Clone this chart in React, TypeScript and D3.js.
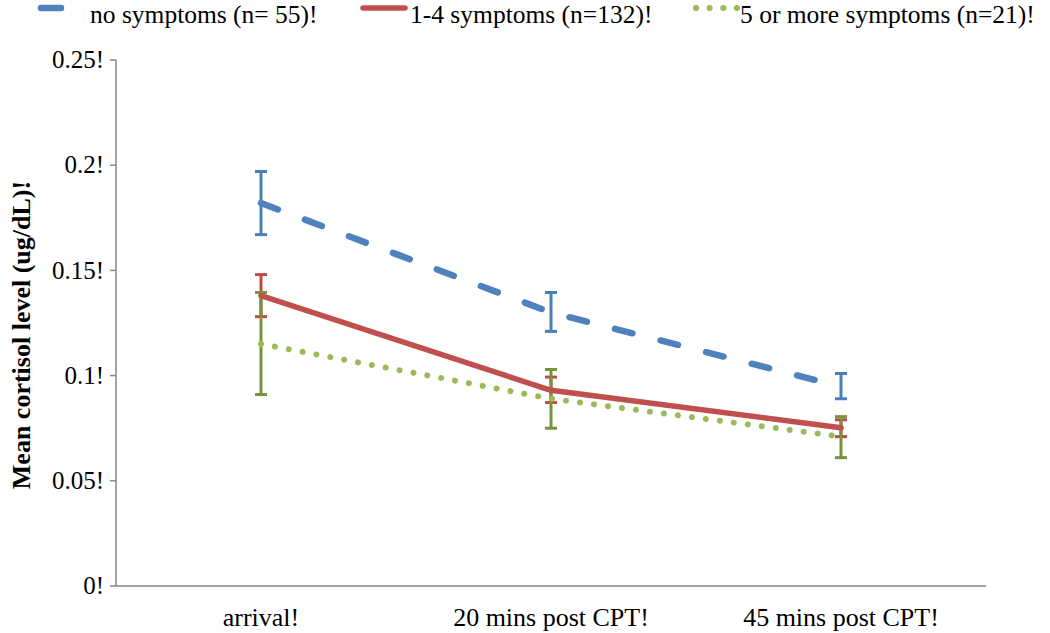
import React from "react";
import * as d3 from "d3";

const categories = ["arrival!", "20 mins post CPT!", "45 mins post CPT!"];
const yTicks = [0, 0.05, 0.1, 0.15, 0.2, 0.25];
const yTickLabels = ["0!", "0.05!", "0.1!", "0.15!", "0.2!", "0.25!"];

const noSymptoms = [0.182, 0.130, 0.0948];
const noSymptomsLo = [0.167, 0.121, 0.089];
const noSymptomsHi = [0.197, 0.1395, 0.101];

const mid = [0.138, 0.093, 0.0752];
const midLo = [0.128, 0.0872, 0.071];
const midHi = [0.148, 0.0993, 0.079];

const many = [0.115, 0.089, 0.071];
const manyLo = [0.091, 0.075, 0.061];
const manyHi = [0.1395, 0.1029, 0.0805];

const seriesNames = ["no symptoms (n= 55)!", "1-4 symptoms (n=132)!", "5 or more symptoms (n=21)!"];

const FONT = "'Liberation Serif', 'DejaVu Serif', serif";

export default function App() {
  const W = 1050, H = 633;
  const left = 116, right = 986, top = 60, bottom = 586;
  const x = d3.scaleBand<string>().domain(categories).range([left, right]);
  const y = d3.scaleLinear().domain([0, 0.25]).range([bottom, top]);
  const cx = (c: string) => (x(c) as number) + x.bandwidth() / 2;
  const line = d3.line<number>().x((_, i) => cx(categories[i])).y((d) => y(d));

  const series = [
    { vals: noSymptoms, lo: noSymptomsLo, hi: noSymptomsHi, color: "#4f81bd", err: "#4a7ebb", dash: "18 29", width: 6.5 },
    { vals: mid, lo: midLo, hi: midHi, color: "#c0504d", err: "#be4b48", dash: undefined, width: 5.5 },
    { vals: many, lo: manyLo, hi: manyHi, color: "#9bbb59", err: "#77933c", dash: "0.1 14", width: 6 },
  ];

  const legendItems = [
    { x1: 41, x2: 61, tx: 90, ...series[0], dash: undefined },
    { x1: 363, x2: 405, tx: 410, ...series[1] },
    { x1: 696, x2: 738, tx: 740, ...series[2], dash: "0.1 13.5" },
  ];

  return (
    <svg width={W} height={H} style={{ display: "block", position: "absolute", left: 0, top: 0 }}>
      <rect width={W} height={H} fill="#fff" />
      {/* axes */}
      <line x1={left} x2={left} y1={top} y2={bottom} stroke="#868686" strokeWidth={1.5} />
      <line x1={left} x2={right} y1={bottom} y2={bottom} stroke="#868686" strokeWidth={1.5} />
      {yTicks.map((t, i) => (
        <g key={i}>
          <line x1={left - 6} x2={left} y1={y(t)} y2={y(t)} stroke="#868686" strokeWidth={1.5} />
          <text x={left - 12} y={y(t)} dy="0.33em" textAnchor="end" fontFamily={FONT} fontSize={25} fill="#000">
            {yTickLabels[i]}
          </text>
        </g>
      ))}
      {categories.map((c) => (
        <text key={c} x={cx(c)} y={bottom + 40} textAnchor="middle" fontFamily={FONT} fontSize={26} fill="#000">
          {c}
        </text>
      ))}
      <text
        transform={`translate(30,${(top + bottom) / 2 + 12}) rotate(-90)`}
        textAnchor="middle"
        fontFamily={FONT}
        fontWeight="bold"
        fontSize={26}
        fill="#000"
      >
        Mean cortisol level (ug/dL)!
      </text>
      {/* error bars */}
      {series.map((s, si) => (
        <g key={"e" + si}>
          {categories.map((c, i) => (
            <g key={c} stroke={s.err} strokeWidth={3}>
              <line x1={cx(c)} x2={cx(c)} y1={y(s.lo[i])} y2={y(s.hi[i])} />
              <line x1={cx(c) - 6} x2={cx(c) + 6} y1={y(s.lo[i])} y2={y(s.lo[i])} />
              <line x1={cx(c) - 6} x2={cx(c) + 6} y1={y(s.hi[i])} y2={y(s.hi[i])} />
            </g>
          ))}
        </g>
      ))}
      {/* lines */}
      {[2, 1, 0].map((si) => {
        const s = series[si];
        return (
          <path
            key={"l" + si}
            d={line(s.vals) || ""}
            fill="none"
            stroke={s.color}
            strokeWidth={s.width}
            strokeDasharray={s.dash}
            strokeLinecap="round"
            strokeLinejoin="round"
          />
        );
      })}
      {/* legend */}
      {legendItems.map((l, i) => (
        <g key={"lg" + i}>
          <line x1={l.x1} x2={l.x2} y1={8} y2={8} stroke={l.color} strokeWidth={l.width} strokeLinecap="round" strokeDasharray={l.dash} />
          <text x={l.tx} y={23} fontFamily={FONT} fontSize={25.5} fill="#000">
            {seriesNames[i]}
          </text>
        </g>
      ))}
    </svg>
  );
}
